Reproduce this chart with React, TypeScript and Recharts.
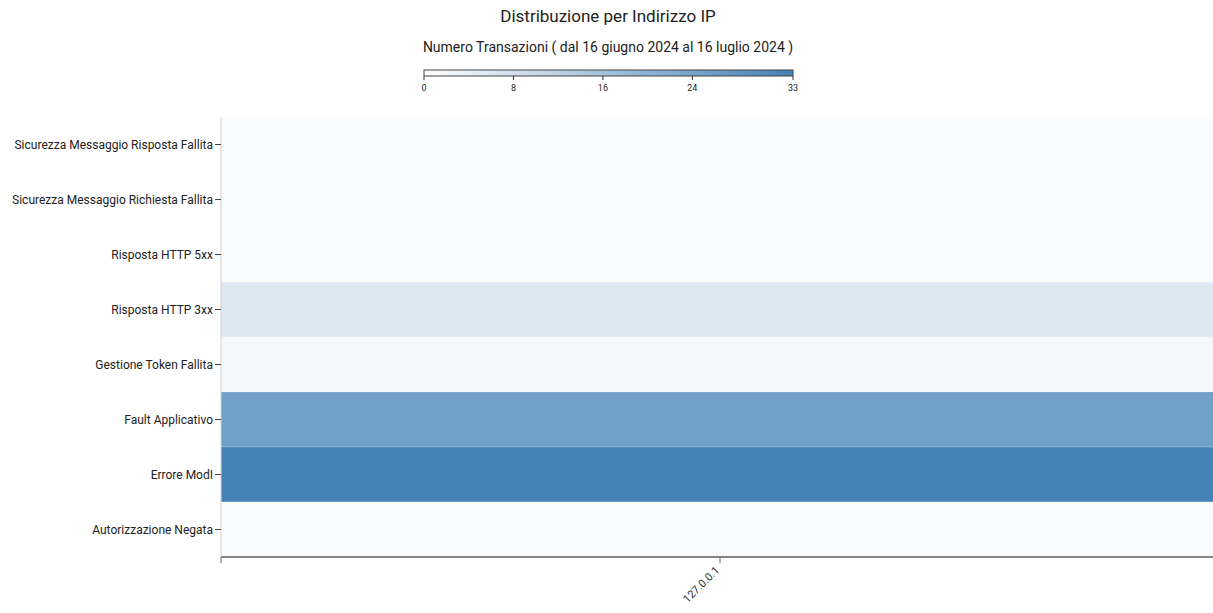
import { BarChart, Bar, Cell, XAxis, YAxis } from 'recharts';

// righe dall'alto verso il basso
const categories = [
  'Sicurezza Messaggio Risposta Fallita',
  'Sicurezza Messaggio Richiesta Fallita',
  'Risposta HTTP 5xx',
  'Risposta HTTP 3xx',
  'Gestione Token Fallita',
  'Fault Applicativo',
  'Errore ModI',
  'Autorizzazione Negata',
];
const ips = ['127.0.0.1'];
const counts = [1, 1, 1, 6, 2, 25, 33, 1];
const legendTicks = [0, 8, 16, 24, 33];
const maxCount = 33;

const title = 'Distribuzione per Indirizzo IP';
const subtitle = 'Numero Transazioni ( dal 16 giugno 2024 al 16 luglio 2024 )';

const font = 'Roboto, "Noto Sans", sans-serif';

const lo = [255, 255, 255];
const hi = [68, 130, 182];
const colorFor = (v: number) => {
  const t = Math.max(0, Math.min(1, v / maxCount));
  const c = lo.map((l, i) => Math.round(l + (hi[i] - l) * t));
  return `rgb(${c[0]},${c[1]},${c[2]})`;
};

// ogni riga copre tutte le colonne IP (una sola qui)
const data = categories.map((category, i) => ({ category, span: ips.length, count: counts[i] }));
const xTicks = [0, ...ips.map((_, i) => i + 0.5), ips.length];
const xLabel = (v: number) => {
  const i = v - 0.5;
  return Number.isInteger(i) && ips[i] ? ips[i] : '';
};

const XTick = (props: any) => {
  const { x, y, payload } = props;
  const label = xLabel(payload.value);
  if (!label) return null;
  return (
    <text x={x} y={y} dy={6} transform={`rotate(-45, ${x}, ${y + 6})`} textAnchor="end"
      fontSize={11} fontFamily={font} fill="#333">
      {label}
    </text>
  );
};

const YTick = (props: any) => {
  const { x, y, payload } = props;
  return (
    <text x={x} y={y} dy={4} textAnchor="end" fontSize={12} fontFamily={font} fill="#222">
      {payload.value}
    </text>
  );
};

const legendX0 = 424;
const legendW = 369;

export default function App() {
  return (
    <div style={{ position: 'absolute', left: 0, top: 0, width: 1213, height: 613, overflow: 'hidden', background: '#fff' }}>
      <BarChart width={1225} height={613} data={data} layout="vertical" barCategoryGap={0}
        margin={{ top: 117, right: 6, bottom: 0, left: 0 }}>
        <XAxis type="number" domain={[0, ips.length]} ticks={xTicks} interval={0} height={56}
          axisLine={{ stroke: '#111' }} tickLine={{ stroke: '#666' }} tickSize={6} tick={<XTick />} />
        <YAxis type="category" dataKey="category" width={221} interval={0}
          axisLine={{ stroke: '#d0d0d0' }} tickLine={{ stroke: '#444' }} tickSize={6}
          tick={<YTick />} />
        <Bar dataKey="span" isAnimationActive={false} stroke="#ffffff" strokeOpacity={0.2} strokeWidth={1}>
          {data.map((d, i) => <Cell key={i} fill={colorFor(d.count)} />)}
        </Bar>
      </BarChart>
      <svg width={1213} height={613} style={{ position: 'absolute', left: 0, top: 0, pointerEvents: 'none' }}>
        <defs>
          <linearGradient id="lg" x1="0" x2="1" y1="0" y2="0">
            <stop offset="0%" stopColor={colorFor(0)} />
            <stop offset="100%" stopColor={colorFor(maxCount)} />
          </linearGradient>
        </defs>
        <text x={608} y={22} textAnchor="middle" fontSize={17} fontFamily={font} fill="#222">{title}</text>
        <text x={608} y={52} textAnchor="middle" fontSize={14} fontFamily={font} fill="#222">{subtitle}</text>
        <rect x={legendX0} y={70} width={legendW} height={6} fill="url(#lg)" stroke="#444" strokeWidth={1} />
        {legendTicks.map((t) => {
          const x = legendX0 + (t / maxCount) * legendW;
          return (
            <g key={t}>
              <line x1={x} x2={x} y1={76} y2={80} stroke="#333" />
              <text x={x} y={91} textAnchor="middle" fontSize={9} fontFamily={font} fill="#222">{t}</text>
            </g>
          );
        })}
      </svg>
    </div>
  );
}
